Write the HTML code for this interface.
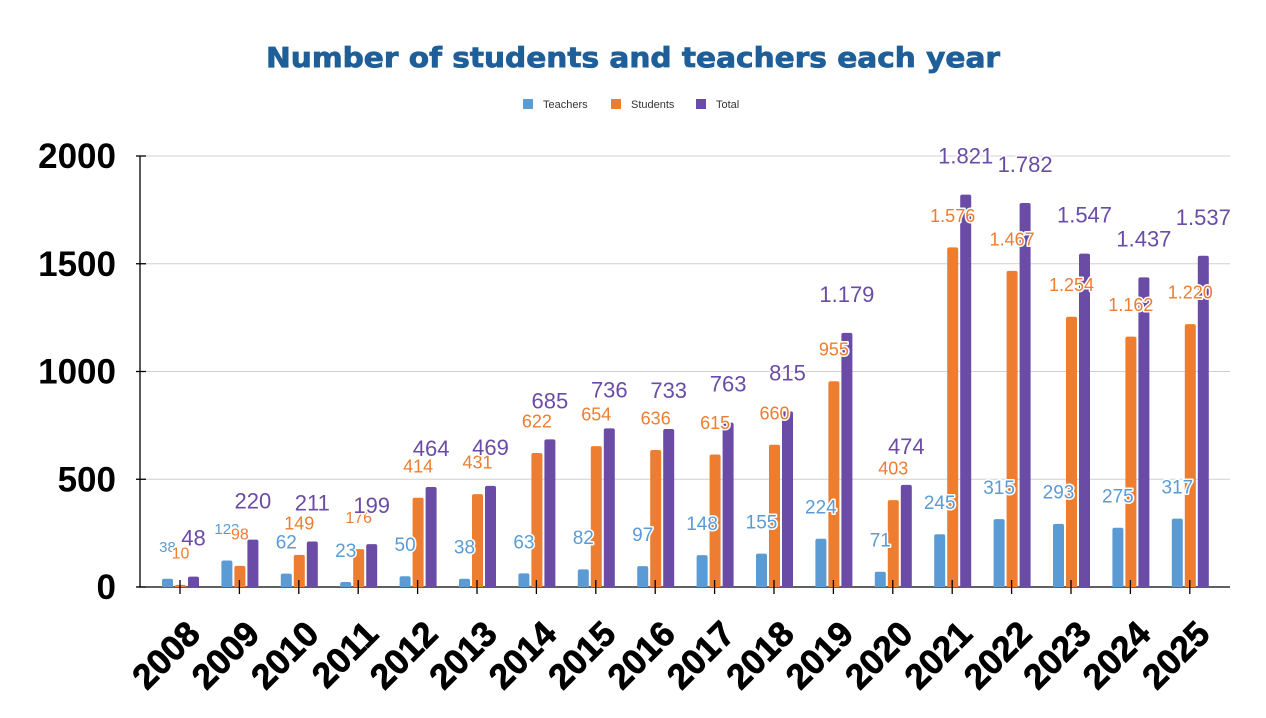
<!DOCTYPE html>
<html><head><meta charset="utf-8"><style>
html,body{margin:0;padding:0;background:#fff;}
svg{display:block;font-family:"Liberation Sans",sans-serif;}
.lbl{paint-order:stroke;stroke:#fff;stroke-width:3px;stroke-linejoin:round;}
</style></head><body>
<svg id="c" width="1266" height="718" viewBox="0 0 1266 718" xmlns="http://www.w3.org/2000/svg">
<text x="633" y="67" text-anchor="middle" font-family="DejaVu Sans, sans-serif" font-weight="bold" font-size="28" fill="#1f5f99" stroke="#1f5f99" stroke-width="0.8" textLength="734" lengthAdjust="spacingAndGlyphs">Number of students and teachers each year</text>
<rect x="523" y="99" width="10" height="10" fill="#5b9bd5"/><text x="543" y="108" font-size="11" fill="#333">Teachers</text>
<rect x="611" y="99" width="10" height="10" fill="#ed7d31"/><text x="631" y="108" font-size="11" fill="#333">Students</text>
<rect x="696" y="99" width="10" height="10" fill="#6a4ca6"/><text x="716" y="108" font-size="11" fill="#333">Total</text>
<g id="g"></g>
</svg>
<script>
var T=[38,123,62,23,50,38,63,82,97,148,155,224,71,245,315,293,275,317];
var S=[10,98,149,176,414,431,622,654,636,615,660,955,403,1576,1467,1254,1162,1220];
var O=[48,220,211,199,464,469,685,736,733,763,815,1179,474,1821,1782,1547,1437,1537];
var h='';var y0=587,k=431/2000;
for(var v=0;v<=2000;v+=500){var y=y0-v*k;
 if(v>0)h+='<line x1="138" x2="1230" y1="'+y+'" y2="'+y+'" stroke="#d0d0d0" stroke-width="1"/>';
 h+='<line x1="136" x2="146" y1="'+y+'" y2="'+y+'" stroke="#000" stroke-width="1.3"/>';
 h+='<text x="116" y="'+(y+12)+'" text-anchor="end" font-size="35" font-weight="bold" fill="#000">'+v+'</text>';}
h+='<line x1="140" x2="140" y1="156" y2="587" stroke="#000" stroke-width="1.3"/>';
h+='<line x1="138" x2="1230" y1="587" y2="587" stroke="#000" stroke-width="1.3"/>';
function fmt(n){return n>=1000?Math.floor(n/1000)+'.'+String(n%1000).padStart(3,'0'):''+n;}
function bar(x,v,c){var t=y0-v*k;return '<path d="M'+x+' '+y0+'V'+(t+2)+'q0 -2 2 -2h7q2 0 2 2V'+y0+'Z" fill="'+c+'"/>';}
for(var i=0;i<18;i++){var c=180+i*59.4;
 h+=bar(c-18,T[i],'#5b9bd5')+bar(c-5,S[i],'#ed7d31')+bar(c+8,O[i],'#6a4ca6');
 h+='<line x1="'+c+'" x2="'+c+'" y1="580" y2="594" stroke="#000" stroke-width="1.3"/>';
 var ts=(i<2)?15:19, ss=(i<2||i==3)?16:18;
 h+='<text class="lbl" x="'+(c-12.5)+'" y="'+(y0-T[i]*k-32+ts*0.36)+'" text-anchor="middle" font-size="'+ts+'" fill="#5b9bd5">'+fmt(T[i])+'</text>';
 h+='<text class="lbl" x="'+(c+0.5)+'" y="'+(y0-S[i]*k-32+ss*0.36)+'" text-anchor="middle" font-size="'+ss+'" fill="#ed7d31">'+fmt(S[i])+'</text>';
 h+='<text class="lbl" x="'+(c+13.5)+'" y="'+(y0-O[i]*k-39+8)+'" text-anchor="middle" font-size="22" fill="#6a4ca6">'+fmt(O[i])+'</text>';
 h+='<text transform="translate('+(c+22)+',636) rotate(-45)" text-anchor="end" font-size="35" font-weight="bold" fill="#000" stroke="#000" stroke-width="0.8">'+(2008+i)+'</text>';}
document.getElementById('g').innerHTML=h;
</script>
</body></html>
